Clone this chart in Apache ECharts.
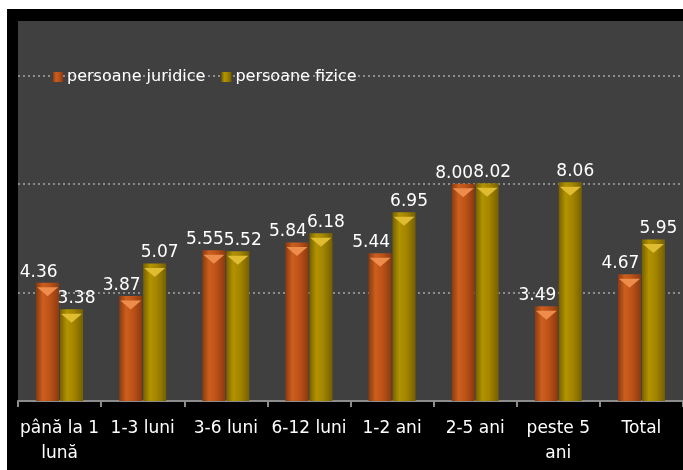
<!DOCTYPE html>
<html>
<head>
<meta charset="utf-8">
<script src="https://cdn.jsdelivr.net/npm/echarts@6/dist/echarts.min.js"></script>
<style>
  html, body { margin: 0; padding: 0; background: #ffffff; width: 683px; height: 470px; overflow: hidden; }
  #frame { position: absolute; left: 7px; top: 9px; width: 676px; height: 461px; background: #000000; }
  #chart { width: 676px; height: 461px; }
</style>
</head>
<body>
<div id="frame"><div id="chart"></div></div>
<script>
const categories = ['până la 1 lună', '1-3 luni', '3-6 luni', '6-12 luni', '1-2 ani', '2-5 ani', 'peste 5 ani', 'Total'];
const tickLabels = ['până la 1\nlună', '1-3 luni', '3-6 luni', '6-12 luni', '1-2 ani', '2-5 ani', 'peste 5\nani', 'Total'];
const seriesNames = ['persoane juridice', 'persoane fizice'];
const juridice = [4.36, 3.87, 5.55, 5.84, 5.44, 8.00, 3.49, 4.67];
const fizice = [3.38, 5.07, 5.52, 6.18, 6.95, 8.02, 8.06, 5.95];
const yTicks = { min: 0, max: 14, interval: 4 };

const FONT = 'DejaVu Sans';
function grad(edge, mid, light) {
  return new echarts.graphic.LinearGradient(0, 0, 1, 0, [
    { offset: 0, color: edge },
    { offset: 0.3, color: light },
    { offset: 0.6, color: mid },
    { offset: 1, color: edge }
  ]);
}
const orange = grad('#8a3a10', '#bd5218', '#cc5f1e');
const gold = grad('#766000', '#a38500', '#b29300');
const BW = 23, GAP = '4%';
const capPath = 'path://M0,0 L20,0 L10,9 Z';

const chart = echarts.init(document.getElementById('chart'), null, { renderer: 'canvas' });
function barLabel(dx) {
  return {
    show: true, position: 'top', distance: 2, color: '#ffffff',
    fontFamily: FONT, fontSize: 17, offset: [dx, 0],
    formatter: p => Number(p.value).toFixed(2)
  };
}
chart.setOption({
  backgroundColor: '#000000',
  animation: false,
  grid: { left: 11, right: 0, top: 12, bottom: 69, show: true, backgroundColor: '#404040', borderWidth: 0 },
  legend: {
    data: seriesNames,
    left: 41, top: 55,
    itemWidth: 10, itemHeight: 10, itemGap: 16,
    icon: 'rect',
    textStyle: { color: '#ffffff', fontFamily: FONT, fontSize: 16, padding: [0, 0, 0, -1] }
  },
  xAxis: {
    type: 'category', data: categories,
    axisLine: { show: true, lineStyle: { color: '#8c8c8c', width: 2 } },
    axisTick: { show: true, length: 6, lineStyle: { color: '#8c8c8c', width: 2 } },
    axisLabel: { color: '#ffffff', fontFamily: FONT, fontSize: 17, lineHeight: 25, margin: 15,
      interval: 0, formatter: (v, i) => tickLabels[i] }
  },
  yAxis: {
    type: 'value', min: yTicks.min, max: yTicks.max, interval: yTicks.interval,
    axisLine: { show: false }, axisTick: { show: false }, axisLabel: { show: false },
    splitLine: { show: true, showMinLine: false, showMaxLine: false,
      lineStyle: { color: '#8c8c8c', type: [2, 3], width: 2 } }
  },
  series: [
    { name: seriesNames[0], type: 'bar', data: juridice, barWidth: BW, barGap: GAP,
      itemStyle: { color: orange }, label: barLabel(-9), z: 2 },
    { name: seriesNames[1], type: 'bar', data: fizice, barWidth: BW, barGap: GAP,
      itemStyle: { color: gold }, label: barLabel(5), z: 2 },
    { name: 'capJ', type: 'pictorialBar', data: juridice, barWidth: BW, barGap: GAP,
      symbol: capPath, symbolSize: [BW - 2, 9], symbolPosition: 'end', symbolOffset: [0, '50%'],
      itemStyle: { color: '#ee8c4c' }, z: 3, silent: true },
    { name: 'capF', type: 'pictorialBar', data: fizice, barWidth: BW, barGap: GAP,
      symbol: capPath, symbolSize: [BW - 2, 9], symbolPosition: 'end', symbolOffset: [0, '50%'],
      itemStyle: { color: '#e0bc30' }, z: 3, silent: true }
  ]
});
</script>
</body>
</html>
